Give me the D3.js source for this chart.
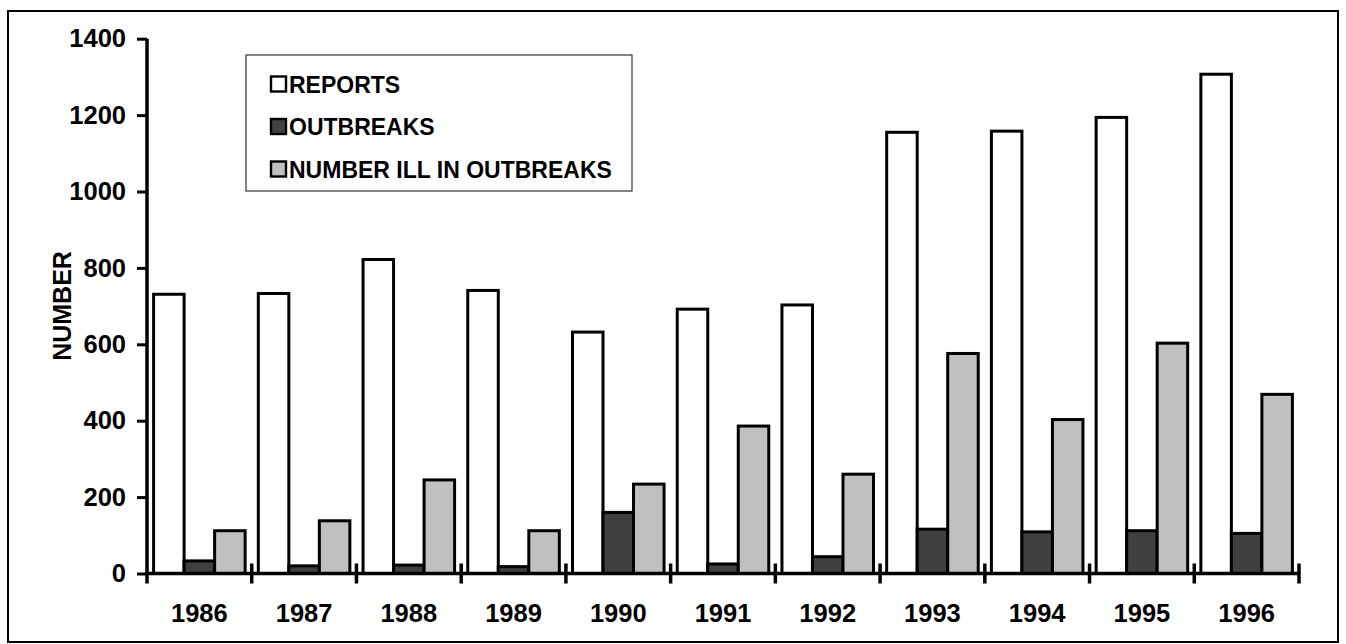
<!DOCTYPE html>
<html>
<head>
<meta charset="utf-8">
<script src="https://cdn.jsdelivr.net/npm/d3@7"></script>
<style>
  html, body { margin: 0; padding: 0; background: #fff; }
  svg { display: block; font-family: "Liberation Sans", Arial, sans-serif; font-weight: bold; }
</style>
</head>
<body>
<svg id="chart" width="1346" height="644"></svg>
<script>
// Annual counts, 1986–1996
const years = ["1986","1987","1988","1989","1990","1991","1992","1993","1994","1995","1996"];
const reports   = [731, 733, 822, 741, 632, 692, 703, 1155, 1158, 1194, 1307];
const outbreaks = [33, 20, 22, 18, 160, 25, 44, 116, 109, 112, 105];
const numberIll = [112, 138, 245, 112, 234, 386, 260, 576, 403, 603, 469];
const seriesNames = ["REPORTS", "OUTBREAKS", "NUMBER ILL IN OUTBREAKS"];
const seriesColors = ["#ffffff", "#404040", "#c0c0c0"];
const yTicks = [0, 200, 400, 600, 800, 1000, 1200, 1400];

const seriesValues = [reports, outbreaks, numberIll];

const svg = d3.select("#chart");

// outer frame
svg.append("rect")
  .attr("x", 8).attr("y", 11).attr("width", 1330).attr("height", 631)
  .attr("fill", "none").attr("stroke", "#000").attr("stroke-width", 2);

const plot = { left: 147, right: 1299, top: 38.7, bottom: 573.5 };

const x0 = d3.scaleBand().domain(years).range([plot.left, plot.right]).paddingInner(0).paddingOuter(0);
const x1 = d3.scaleBand().domain(seriesNames).range([0, x0.bandwidth()]).paddingInner(0).paddingOuter(0.216);
const y = d3.scaleLinear().domain([0, 1400]).range([plot.bottom, plot.top]);

// bars
const groups = svg.append("g").selectAll("g")
  .data(years)
  .join("g")
  .attr("transform", d => `translate(${x0(d)},0)`);

groups.selectAll("rect")
  .data((d, i) => seriesNames.map((s, k) => ({ s, k, v: seriesValues[k][i] })))
  .join("rect")
  .attr("x", d => x1(d.s))
  .attr("width", x1.bandwidth())
  .attr("y", d => y(d.v))
  .attr("height", d => y(0) - y(d.v))
  .attr("fill", d => seriesColors[d.k])
  .attr("stroke", "#000")
  .attr("stroke-width", 3);

// y axis
const yAxis = svg.append("g")
  .attr("transform", `translate(${plot.left},0)`)
  .call(d3.axisLeft(y).tickValues(yTicks).tickSize(10).tickPadding(11).tickFormat(d3.format("d")));
yAxis.select(".domain").attr("stroke", "#000").attr("stroke-width", 3.5)
  .attr("d", `M0,${plot.top}V${plot.bottom}`);
yAxis.selectAll(".tick line").attr("stroke", "#000").attr("stroke-width", 3);
yAxis.selectAll(".tick text")
  .attr("fill", "#000")
  .style("font-size", "25.5px").style("font-weight", "bold")
  .style("font-family", "'Liberation Sans', Arial, sans-serif");

// x axis: cross ticks at category boundaries
const xAxis = svg.append("g");
xAxis.append("line")
  .attr("x1", plot.left).attr("x2", plot.right)
  .attr("y1", y(0)).attr("y2", y(0))
  .attr("stroke", "#000").attr("stroke-width", 3.5);
const boundaries = years.map(d => x0(d)).concat([x0(years[years.length - 1]) + x0.bandwidth()]);
xAxis.selectAll("line.tick")
  .data(boundaries)
  .join("line")
  .attr("class", "tick")
  .attr("x1", d => d).attr("x2", d => d)
  .attr("y1", (d, i) => i === 0 ? y(0) : y(0) - 10)
  .attr("y2", y(0) + 10)
  .attr("stroke", "#000").attr("stroke-width", 3.5);
xAxis.selectAll("text")
  .data(years)
  .join("text")
  .attr("x", d => x0(d) + x0.bandwidth() / 2)
  .attr("y", 622)
  .attr("text-anchor", "middle")
  .style("font-size", "25.5px")
  .text(d => d);

// y axis title
svg.append("text")
  .attr("transform", `translate(71,306) rotate(-90)`)
  .attr("text-anchor", "middle")
  .style("font-size", "25px")
  .text("NUMBER");

// legend
const legend = svg.append("g");
legend.append("rect")
  .attr("x", 246).attr("y", 55).attr("width", 386).attr("height", 136)
  .attr("fill", "#fff").attr("stroke", "#333").attr("stroke-width", 1.2);
const rowY = [84, 126.5, 169];
const items = legend.selectAll("g.item")
  .data(seriesNames)
  .join("g")
  .attr("class", "item")
  .attr("transform", (d, i) => `translate(0,${rowY[i]})`);
items.append("rect")
  .attr("x", 271).attr("y", -7.5).attr("width", 15).attr("height", 15)
  .attr("fill", (d, i) => seriesColors[i])
  .attr("stroke", "#000").attr("stroke-width", 2.4);
items.append("text")
  .attr("x", 289).attr("y", 8.5)
  .style("font-size", "23px")
  .text(d => d);
</script>
</body>
</html>
